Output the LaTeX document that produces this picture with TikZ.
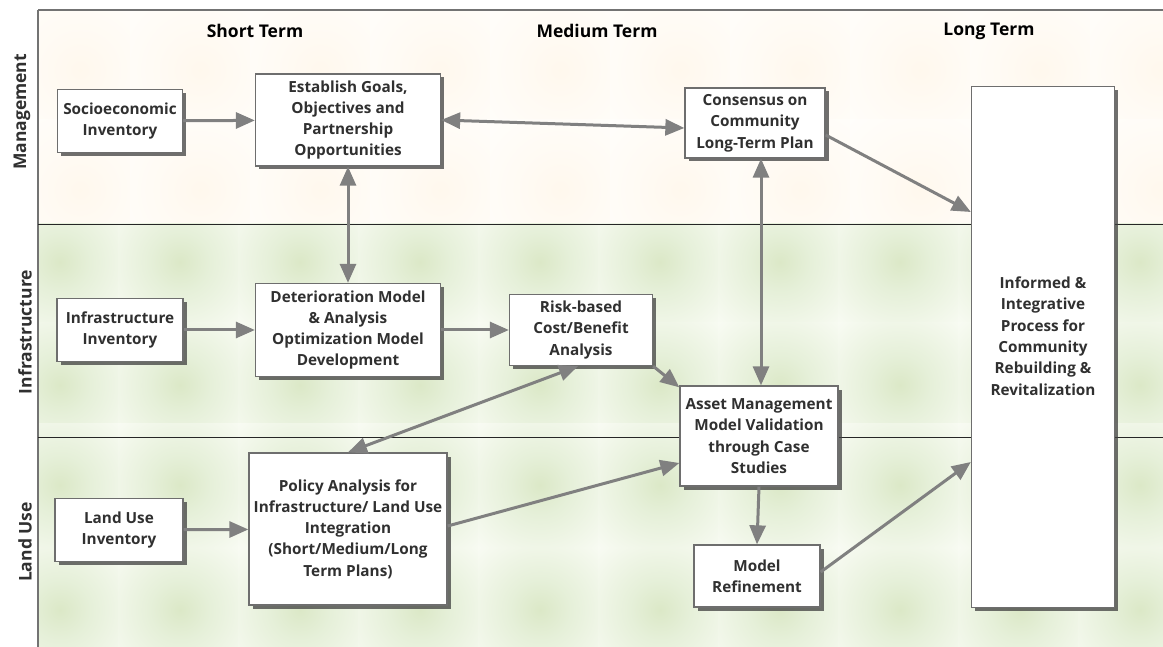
\documentclass[tikz,border=0pt]{standalone}
\usepackage{fontspec}
\setmainfont{Open Sans}
\usetikzlibrary{arrows.meta,shadows,calc}
\pgfdeclareradialshading{greenblob}{\pgfpoint{0bp}{0bp}}{rgb(0bp)=(0.86,0.91,0.78); rgb(12bp)=(0.90,0.94,0.85); rgb(36bp)=(0.975,0.985,0.955); rgb(50bp)=(0.995,0.997,0.99)}
\pgfdeclareradialshading{warmblob}{\pgfpoint{0bp}{0bp}}{rgb(0bp)=(1.0,0.972,0.93); rgb(14bp)=(1.0,0.982,0.955); rgb(36bp)=(1.0,0.995,0.985); rgb(50bp)=(1.0,0.999,0.996)}
\definecolor{boxline}{HTML}{6E6E6E}
\definecolor{txt}{HTML}{303030}
\definecolor{arr}{HTML}{808080}
\tikzset{
  box/.style={draw=boxline, line width=1.3pt, fill=white, align=center, inner sep=2pt,
    text=txt, font=\fontsize{15.3}{21.3}\selectfont\bfseries,
    drop shadow={shadow xshift=3.5pt, shadow yshift=-3.5pt, opacity=0.75, fill=black!75}},
  conn/.style={draw=arr, line width=3pt, -{Triangle[length=19pt,width=16pt]}},
  bconn/.style={draw=arr, line width=3pt, {Triangle[length=19pt,width=16pt]}-{Triangle[length=19pt,width=16pt]}},
  head/.style={font=\fontsize{17.5}{20}\selectfont\bfseries, text=black},
  lane/.style={font=\fontsize{17.5}{20}\selectfont\bfseries, text=txt, rotate=90}
}
\begin{document}
\begin{tikzpicture}[x=1pt,y=-1pt]
\useasboundingbox (0,0) rectangle (1163,647);
\fill[white] (0,0) rectangle (1163,647);
% lane backgrounds
\fill[color={rgb,255:red,255;green,254;blue,252}] (38,10) rectangle (1163,224);
\fill[color={rgb,255:red,252;green,253;blue,249}] (38,224) rectangle (1163,647);
\begin{scope}
\clip (38,10) rectangle (1163,224);
\foreach \cx in {80,200,320,440,560,680,800,920,1040,1160}{
  \foreach \cy in {70,190}{
    \shade[shading=warmblob] (\cx-70,\cy-70) rectangle (\cx+70,\cy+70);
  }
}
\end{scope}
\begin{scope}
\clip (38,224) rectangle (1163,647);
\foreach \cx in {60,180,300,420,540,660,780,900,1020,1140}{
  \foreach \cy in {262,385,485,610}{
    \shade[shading=greenblob] (\cx-62,\cy-62) rectangle (\cx+62,\cy+62);
  }
}
\end{scope}
% frame and dividers
\draw[line width=1.2pt, draw=black!55] (38,10) -- (1163,10);
\draw[line width=1.2pt, draw=black!55] (38,10) -- (38,647);
\draw[line width=0.9pt, draw=black!85] (38,224) -- (1163,224);
\draw[line width=0.9pt, draw=black!85] (38,437) -- (1163,437);
% headers
\node[head] (hs) at (255,31) {Short Term};
\node[head] (hm) at (597,31) {Medium Term};
\node[head] (hl) at (989,31) {Long Term};
\node[lane] (lm) at (22,112) {Management};
\node[lane] (li) at (25,332) {Infrastructure};
\node[lane] (ll) at (25,542) {Land Use};
% boxes
\node[box, minimum width=125pt, minimum height=63pt] (socio) at (120,121) {Socioeconomic\\Inventory};
\node[box, minimum width=185pt, minimum height=92pt] (goals) at (348,120) {Establish Goals,\\Objectives and\\Partnership\\Opportunities};
\node[box, minimum width=140pt, minimum height=70pt] (cons) at (755,123) {Consensus on\\Community\\Long-Term Plan};
\node[box, minimum width=143pt, minimum height=521pt] (inf) at (1043,347) {};
\node[align=center, text=txt, font=\fontsize{15.3}{21.4}\selectfont\bfseries] (inft) at (1043,336) {Informed \&\\Integrative\\Process for\\Community\\Rebuilding \&\\Revitalization};
\node[box, minimum width=126pt, minimum height=63pt] (infra) at (120,330) {Infrastructure\\Inventory};
\node[box, minimum width=185pt, minimum height=93pt] (det) at (348,330) {Deterioration Model\\\& Analysis\\Optimization Model\\Development};
\node[box, minimum width=143pt, minimum height=71pt] (risk) at (581,330) {Risk-based\\Cost/Benefit\\Analysis};
\node[box, minimum width=158pt, minimum height=100pt] (asset) at (759,436) {Asset Management\\Model Validation\\through Case\\Studies};
\node[box, minimum width=128pt, minimum height=63pt] (land) at (119,530) {Land Use\\Inventory};
\node[box, minimum width=198pt, minimum height=152pt] (pol) at (348,529) {Policy Analysis for\\Infrastructure/ Land Use\\Integration\\(Short/Medium/Long\\Term Plans)};
\node[box, minimum width=126pt, minimum height=62pt] (ref) at (757,576) {Model\\Refinement};
% connectors
\draw[conn] (socio) -- (goals);
\draw[bconn] (goals.east) -- ([yshift=-5pt]cons.west);
\draw[bconn] (goals.south) -- (det.north);
\draw[conn] ([yshift=-12pt]cons.east) -- ([yshift=135pt]inf.west);
\draw[bconn] ([xshift=6pt]cons.south) -- ([xshift=2pt]asset.north);
\draw[conn] (infra) -- (det);
\draw[conn] (det) -- (risk);
\draw[conn] (risk.south east) -- ([yshift=-2pt]asset.north west);
\draw[bconn] ([xshift=-3pt]risk.south) -- (pol.north);
\draw[conn] (land) -- (pol);
\draw[conn] ([yshift=3pt]pol.east) -- ([yshift=-27pt]asset.west);
\draw[conn] (asset.south) -- (ref.north);
\draw[conn] ([yshift=4pt]ref.east) -- ([yshift=-115pt]inf.west);
\end{tikzpicture}
\end{document}
